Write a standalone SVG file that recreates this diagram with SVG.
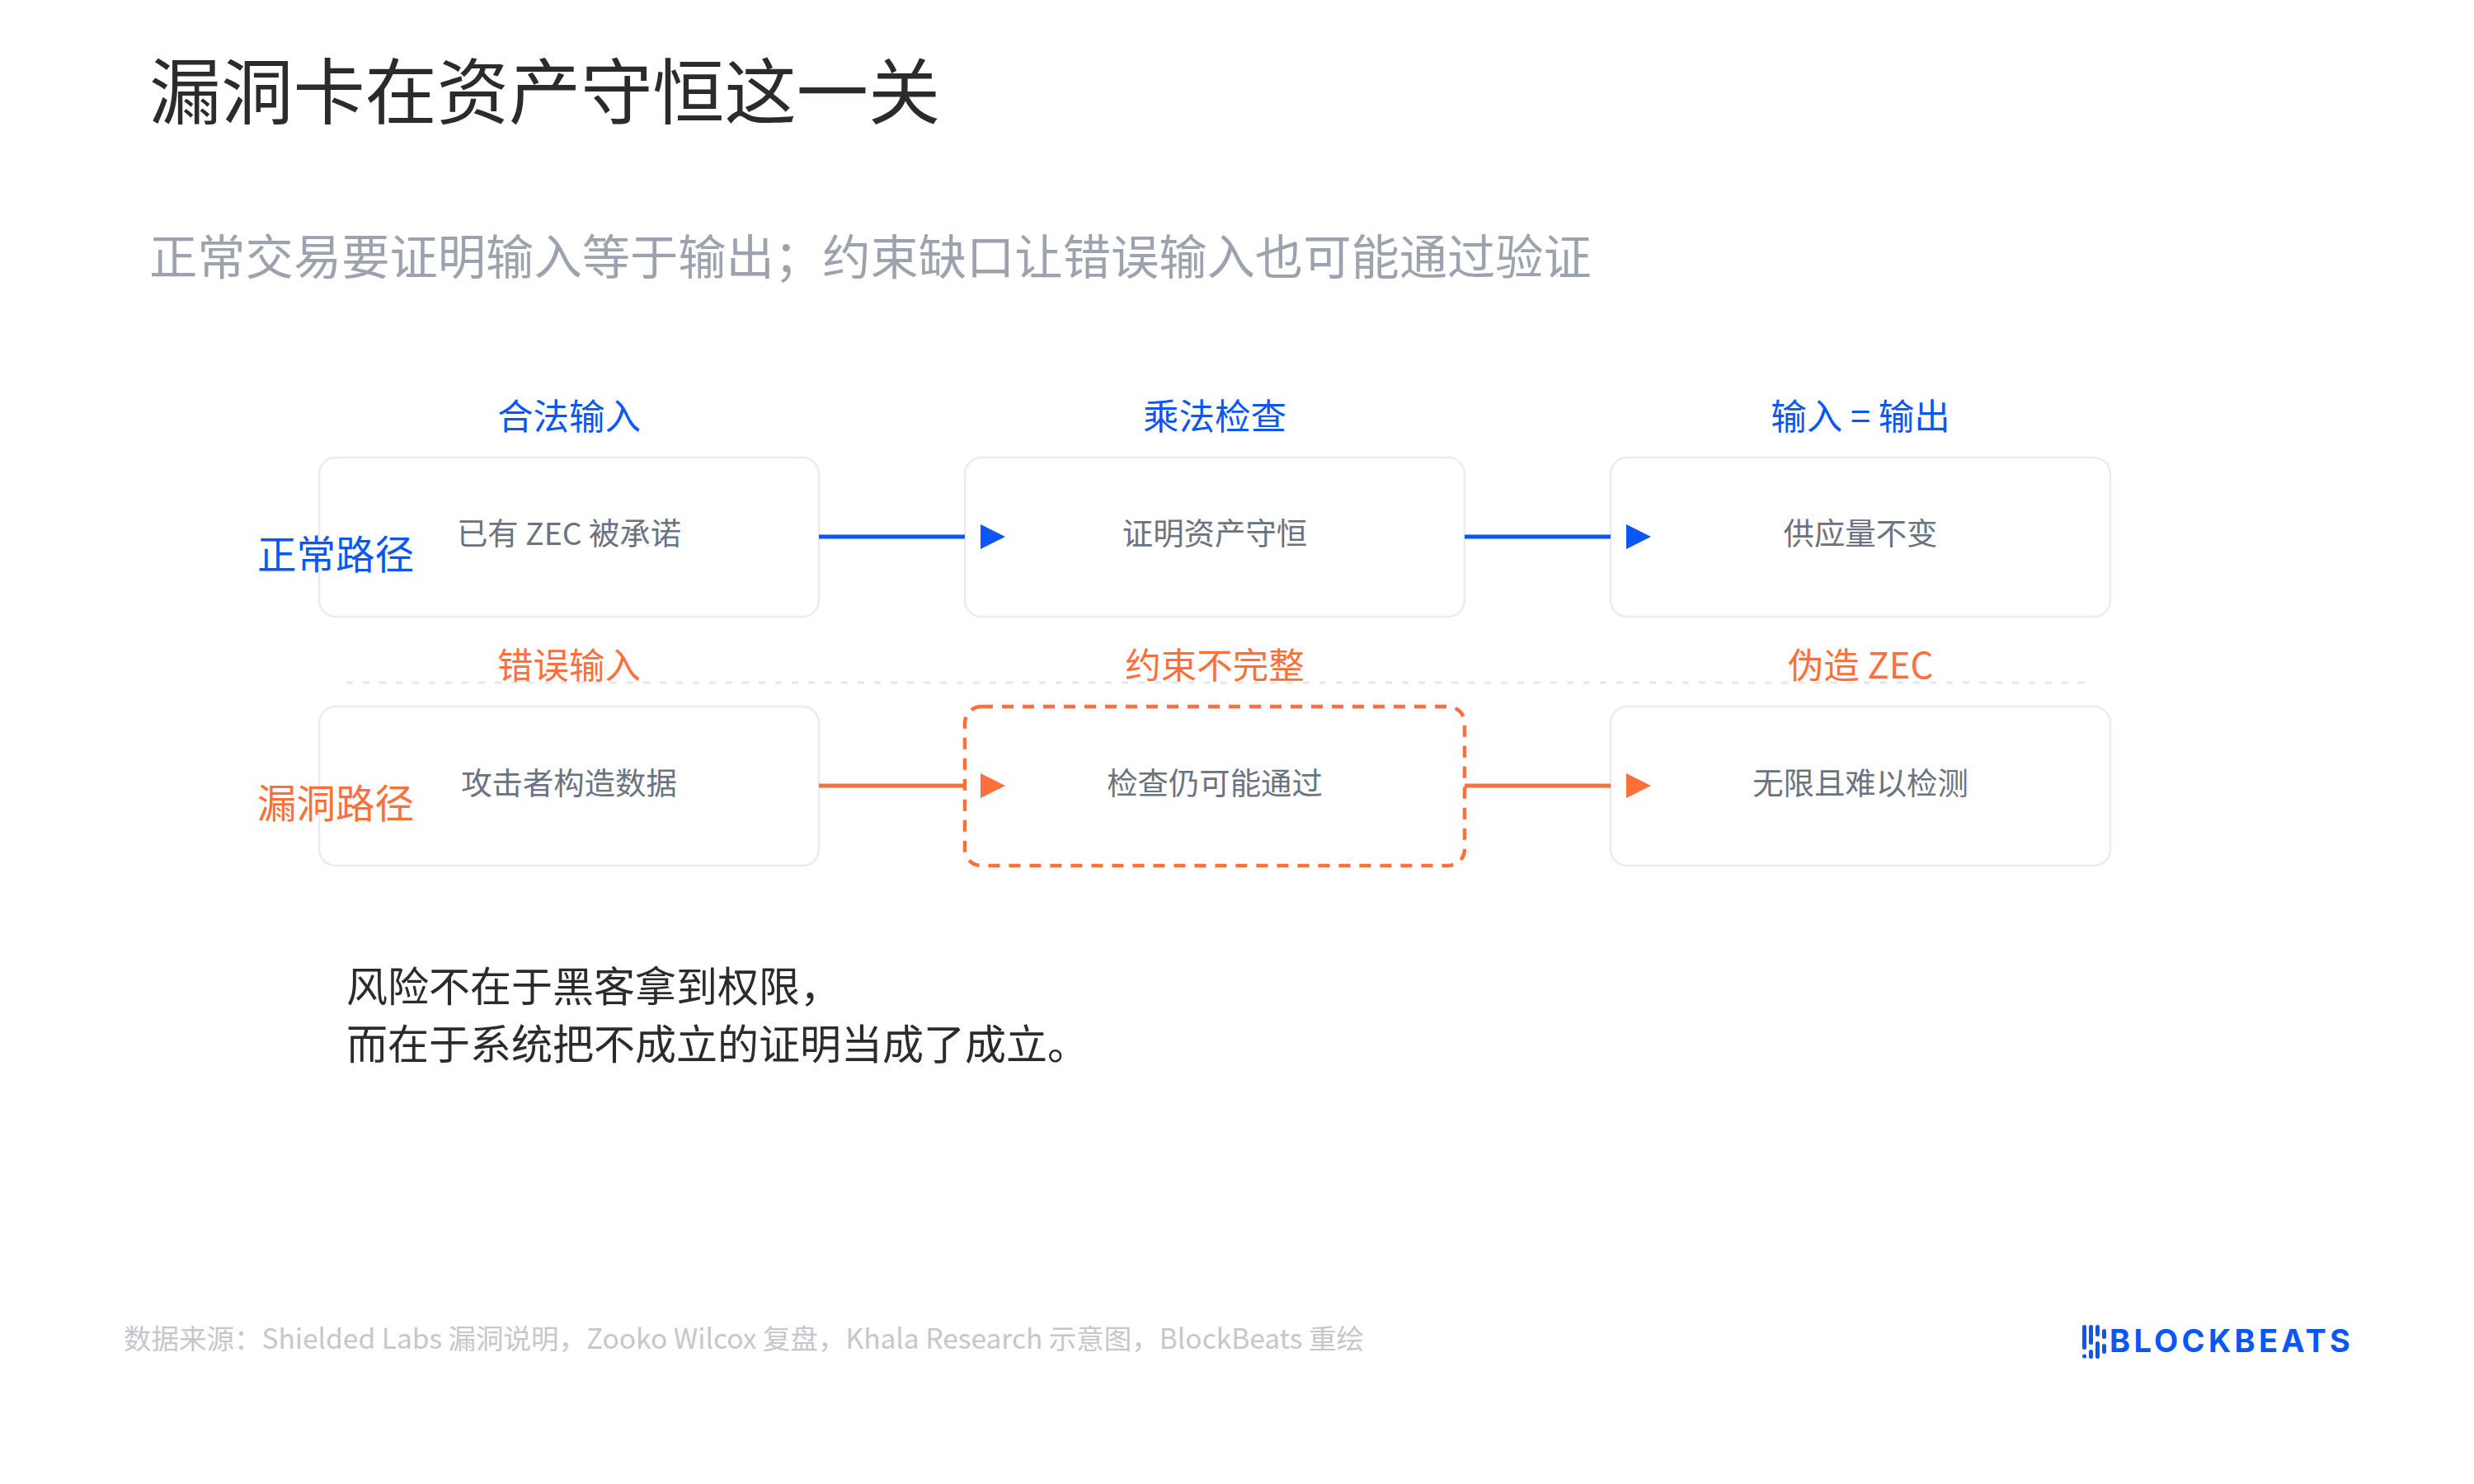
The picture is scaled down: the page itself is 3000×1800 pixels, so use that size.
<svg xmlns="http://www.w3.org/2000/svg" width="3000" height="1800" viewBox="0 0 3000 1800">
<style>
text{font-family:"Noto Sans CJK SC","Noto Sans",sans-serif}
.box{fill:#fff;stroke:#eaecef;stroke-width:2.5}
.bt{font-size:37.4px;fill:#6b7280;text-anchor:middle}
.blue{fill:#0b57f5}
.org{fill:#ff6f3a}
.lab{font-size:43.5px;text-anchor:middle}
.side{font-size:47.5px}
.lb{stroke:#0b57f5;stroke-width:5;fill:none}
.lo{stroke:#ff6f3a;stroke-width:5;fill:none}
</style>
<rect width="3000" height="1800" fill="#fff"/>
<text id="title" x="181" y="144" font-size="87.2" fill="#2b2b2b">漏洞卡在资产守恒这一关</text>
<text id="subtitle" x="181" y="332.5" font-size="58.3" fill="#9ca3af">正常交易要证明输入等于输出；约束缺口让错误输入也可能通过验证</text>
<line x1="420" y1="828" x2="2530" y2="828" stroke="#e5e7eb" stroke-width="3" stroke-dasharray="8 12"/>
<g id="n1"><rect class="box" x="387" y="555" width="606" height="193" rx="20"/><text class="bt" x="690" y="660.5">已有 ZEC 被承诺</text></g>
<g id="n2"><rect class="box" x="1170" y="555" width="606" height="193" rx="20"/><text class="bt" x="1473" y="660.5">证明资产守恒</text></g>
<g id="n3"><rect class="box" x="1953" y="555" width="606" height="193" rx="20"/><text class="bt" x="2256" y="660.5">供应量不变</text></g>
<g id="n4"><rect class="box" x="387" y="857" width="606" height="193" rx="20"/><text class="bt" x="690" y="964">攻击者构造数据</text></g>
<g id="n5"><rect x="1170" y="857" width="606" height="193" rx="20" fill="#fff" stroke="#ff6f3a" stroke-width="4.5" stroke-dasharray="14 11"/><text class="bt" x="1473" y="964">检查仍可能通过</text></g>
<g id="n6"><rect class="box" x="1953" y="857" width="606" height="193" rx="20"/><text class="bt" x="2256" y="964">无限且难以检测</text></g>
<g id="connectors">
<line class="lb" x1="993" y1="651" x2="1170" y2="651"/>
<polygon class="blue" points="1189,636 1219,651 1189,666"/>
<line class="lb" x1="1776" y1="651" x2="1953" y2="651"/>
<polygon class="blue" points="1972,636 2002,651 1972,666"/>
<line class="lo" x1="993" y1="953" x2="1170" y2="953"/>
<polygon class="org" points="1189,938 1219,953 1189,968"/>
<line class="lo" x1="1776" y1="953" x2="1953" y2="953"/>
<polygon class="org" points="1972,938 2002,953 1972,968"/>
</g>
<g id="labels">
<text class="lab blue" x="690" y="521">合法输入</text>
<text class="lab blue" x="1473" y="521">乘法检查</text>
<text class="lab blue" x="2256" y="521">输入 = 输出</text>
<text class="lab org" x="690" y="823">错误输入</text>
<text class="lab org" x="1473" y="823">约束不完整</text>
<text class="lab org" x="2256" y="823">伪造 ZEC</text>
<text class="side blue" x="312" y="690">正常路径</text>
<text class="side org" x="312" y="992">漏洞路径</text>
</g>
<text id="body" font-size="50" fill="#2b2b2b"><tspan x="420" y="1215">风险不在于黑客拿到权限，</tspan><tspan x="420" y="1285">而在于系统把不成立的证明当成了成立。</tspan></text>
<text id="source" x="150" y="1636" font-size="33.5" fill="#c4c7cc">数据来源：Shielded Labs 漏洞说明，Zooko Wilcox 复盘，Khala Research 示意图，BlockBeats 重绘</text>
<g id="logo" fill="#0b57f5">
<rect x="2525" y="1607" width="5" height="30" rx="2.5"/><circle cx="2527.5" cy="1645" r="2.5"/>
<rect x="2533" y="1607" width="5" height="24" rx="2.5"/><rect x="2533" y="1637" width="5" height="11" rx="2.5"/>
<rect x="2541" y="1607" width="5" height="14" rx="2.5"/><rect x="2541" y="1627" width="5" height="21" rx="2.5"/>
<rect x="2549" y="1612" width="5" height="12" rx="2.5"/><rect x="2549" y="1630" width="5" height="12" rx="2.5"/>
<text x="2558" y="1640" font-size="38" font-weight="700" textLength="292" lengthAdjust="spacing" style="font-family:'Inter','Liberation Sans',sans-serif">BLOCKBEATS</text>
</g>
</svg>
